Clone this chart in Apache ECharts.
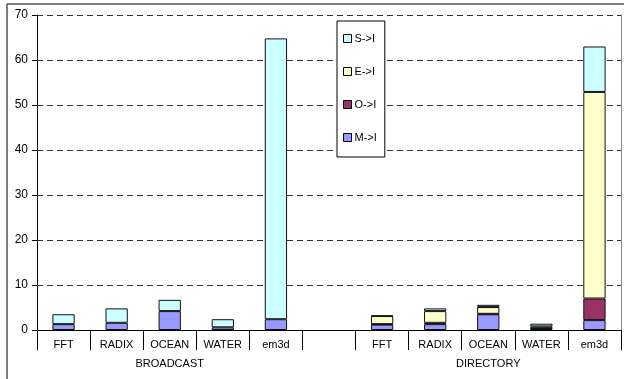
<!DOCTYPE html>
<html>
<head>
<meta charset="utf-8">
<script src="https://cdn.jsdelivr.net/npm/echarts@6/dist/echarts.min.js"></script>
<style>
  html, body { margin: 0; padding: 0; background: #fff; }
  #chart { width: 624px; height: 379px; }
</style>
</head>
<body>
<div id="chart"></div>
<script>
// Benchmarks per protocol; the empty slot separates the two protocol groups
const categories = ['FFT', 'RADIX', 'OCEAN', 'WATER', 'em3d', '', 'FFT', 'RADIX', 'OCEAN', 'WATER', 'em3d'];
const groupNames = ['BROADCAST', '', 'DIRECTORY'];
const groupSizes = [5, 1, 5];

// Stacked components (bottom to top); null where a component is absent
const seriesNames = ['M->I', 'O->I', 'E->I', 'S->I'];
const mValues = [1.3, 1.6, 4.2, 0.6, 2.4, null, 1.2, 1.3, 3.5, 0.3, 2.2];
const oValues = [null, null, null, null, null, null, 0.1, 0.3, 0.1, 0.1, 4.8];
const eValues = [null, null, null, null, null, null, 1.8, 2.6, 1.5, 0.4, 45.9];
const sValues = [2.2, 3.2, 2.5, 1.8, 62.4, null, 0.1, 0.6, 0.5, 0.6, 10.1];
const seriesColors = ['#9999FF', '#993366', '#FFFFCC', '#CCFFFF'];

const yMin = 0, yMax = 70, yStep = 10;

// Second-level axis: one label in the middle of each group, ticks on group boundaries
const groupAxisData = [];
const groupStarts = new Set();
groupSizes.forEach((size, g) => {
  groupStarts.add(groupAxisData.length);
  for (let k = 0; k < size; k++) {
    groupAxisData.push(k === Math.floor(size / 2) ? groupNames[g] : '');
  }
});

const FONT = 'Liberation Sans, Arial, sans-serif';
const valueSets = [mValues, oValues, eValues, sValues];

const series = seriesNames.map((name, i) => ({
  name: name,
  type: 'bar',
  stack: 'total',
  barWidth: '42%',
  data: valueSets[i],
  itemStyle: { color: seriesColors[i], borderColor: '#111', borderWidth: 1 },
  emphasis: { disabled: true }
}));

const chart = echarts.init(document.getElementById('chart'), null, { renderer: 'canvas' });
chart.setOption({
  animation: false,
  backgroundColor: '#fff',
  textStyle: { fontFamily: FONT },
  grid: { left: 37, right: 3, top: 15, bottom: 49, containLabel: false },
  legend: {
    orient: 'vertical',
    left: 337,
    top: 21,
    data: seriesNames.slice().reverse(),
    itemWidth: 8,
    itemHeight: 8,
    itemGap: 22,
    padding: [12, 8, 14, 6],
    borderColor: '#000',
    borderWidth: 1,
    backgroundColor: '#fff',
    icon: 'rect',
    textStyle: { fontFamily: FONT, fontSize: 11, color: '#000', padding: [0, 0, 0, -2] },
    itemStyle: { borderColor: '#000', borderWidth: 1 }
  },
  xAxis: [
    {
      type: 'category',
      data: categories,
      position: 'bottom',
      axisLine: { lineStyle: { color: '#000', width: 1 } },
      axisTick: { show: true, length: 20, interval: 0, lineStyle: { color: '#000' } },
      axisLabel: { interval: 0, fontFamily: FONT, fontSize: 11, color: '#000', margin: 9 },
      splitLine: { show: false }
    },
    {
      type: 'category',
      data: groupAxisData,
      position: 'bottom',
      offset: 20,
      axisLine: { show: false },
      axisTick: {
        show: true, length: 20,
        interval: (idx) => groupStarts.has(idx),
        lineStyle: { color: '#000' }
      },
      axisLabel: { interval: 0, fontFamily: FONT, fontSize: 11, color: '#000', margin: 8 },
      splitLine: { show: false }
    }
  ],
  yAxis: [
    {
      type: 'value',
      min: yMin, max: yMax, interval: yStep,
      axisLine: { show: true, lineStyle: { color: '#000', width: 1 } },
      axisTick: { show: true, length: 5, lineStyle: { color: '#000' } },
      axisLabel: { fontFamily: FONT, fontSize: 12, color: '#000', margin: 9 },
      splitLine: { show: true, lineStyle: { color: '#333', type: [6, 4], width: 1 } }
    },
    {
      type: 'value',
      position: 'right',
      min: yMin, max: yMax, interval: yStep,
      axisLine: { show: true, lineStyle: { color: '#888', width: 1 } },
      axisTick: { show: false },
      axisLabel: { show: false },
      splitLine: { show: false }
    }
  ],
  graphic: [
    {
      type: 'rect',
      left: 4.5, top: 1.5,
      shape: { width: 640, height: 376 },
      style: { fill: 'none', stroke: '#000', lineWidth: 1 },
      silent: true,
      z: -1
    }
  ],
  series: series
});
</script>
</body>
</html>
